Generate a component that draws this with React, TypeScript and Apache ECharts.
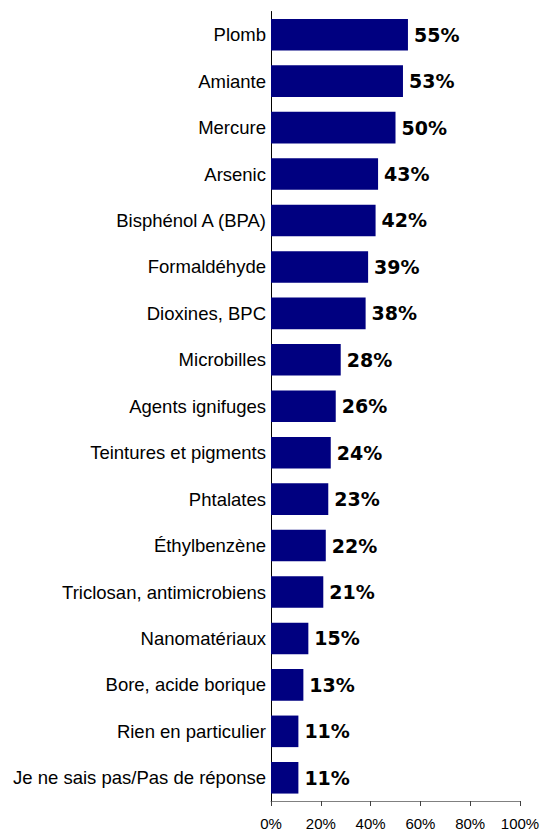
import React, { useEffect, useRef } from "react";
import * as echarts from "echarts";

const categories = [
  "Plomb",
  "Amiante",
  "Mercure",
  "Arsenic",
  "Bisphénol A (BPA)",
  "Formaldéhyde",
  "Dioxines, BPC",
  "Microbilles",
  "Agents ignifuges",
  "Teintures et pigments",
  "Phtalates",
  "Éthylbenzène",
  "Triclosan, antimicrobiens",
  "Nanomatériaux",
  "Bore, acide borique",
  "Rien en particulier",
  "Je ne sais pas/Pas de réponse",
];
const values = [55, 53, 50, 43, 42, 39, 38, 28, 26, 24, 23, 22, 21, 15, 13, 11, 11];

export default function App() {
  const ref = useRef<HTMLDivElement>(null);
  useEffect(() => {
    const chart = echarts.init(ref.current!, undefined, { renderer: "svg" });
    chart.setOption({
      animation: false,
      grid: { left: 271, right: 23, top: 11.5, bottom: 27.7, containLabel: false },
      xAxis: {
        type: "value",
        min: 0,
        max: 100,
        interval: 20,
        axisLine: { show: true, lineStyle: { color: "#808080", width: 1 } },
        axisTick: { show: true, length: 5, lineStyle: { color: "#404040" } },
        splitLine: { show: false },
        axisLabel: {
          formatter: "{value}%",
          color: "#000",
          fontFamily: "Liberation Sans, Arial, sans-serif",
          fontSize: 15,
          margin: 15,
        },
      },
      yAxis: {
        type: "category",
        data: categories,
        inverse: true,
        axisLine: { show: true, lineStyle: { color: "#000", width: 1 } },
        axisTick: { show: false },
        axisLabel: {
          color: "#000",
          fontFamily: "Liberation Sans, Arial, sans-serif",
          fontSize: 18.5,
          margin: 5,
        },
      },
      series: [
        {
          type: "bar",
          data: values,
          barCategoryGap: "32%",
          itemStyle: { color: "#000080" },
          label: {
            show: true,
            position: "right",
            distance: 6,
            formatter: "{c}%",
            color: "#000",
            fontWeight: "bold",
            fontSize: 19,
            fontFamily: "DejaVu Sans, sans-serif",
          },
        },
      ],
    });
    return () => chart.dispose();
  }, []);
  return (
    <div
      ref={ref}
      style={{ position: "fixed", left: 0, top: 0, width: 543, height: 831, background: "#fff" }}
    />
  );
}
